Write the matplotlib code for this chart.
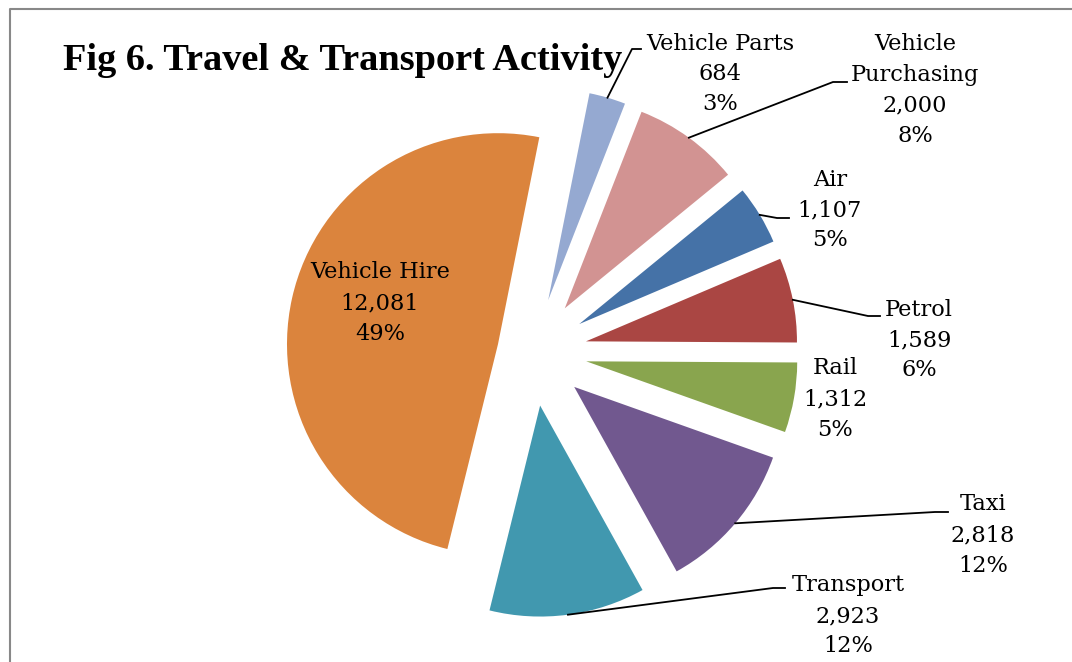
import matplotlib
matplotlib.use('Agg')
import matplotlib.pyplot as plt
import numpy as np

# data, clockwise from the top
labels = ['Vehicle Parts', 'Vehicle\nPurchasing', 'Air', 'Petrol', 'Rail',
          'Taxi', 'Transport', 'Vehicle Hire']
values = [684, 2000, 1107, 1589, 1312, 2818, 2923, 12081]
pcts = [3, 8, 5, 6, 5, 12, 12, 49]
colors = ['#95A9D1', '#D29392', '#4572A7', '#AA4643', '#89A54E',
          '#71588F', '#4198AF', '#DB843D']
explode = [0.256, 0.256, 0.256, 0.256, 0.256, 0.256, 0.256, 0.17]

W, H = 1072, 662
R = 211


def px(x, y):
    # image pixel -> data coords
    return x, H - y


fig = plt.figure(figsize=(W / 100, H / 100), dpi=100)
ax = fig.add_axes([0, 0, 1, 1])

# pie() takes explode in data units, so scale by the radius
wedges, _ = ax.pie(values, colors=colors, explode=[e * R for e in explode],
                   startangle=78.7, counterclock=False, radius=R,
                   center=px(533, 352), frame=True,
                   wedgeprops={'linewidth': 0})
ax.set_xlim(0, W)
ax.set_ylim(0, H)
ax.set_aspect('equal')
ax.axis('off')

font = 'DejaVu Serif'
fs = 16.2

# label centres and leader elbows (image pixels)
label_pos = [(720, 74), (915, 90), (830, 210), (919, 340), (835, 399),
             (983, 535), (848, 616), (380, 303)]
leaders = [((632, 49), (641, 49)), ((833, 82), (847, 82)),
           ((777, 218), (789, 218)), ((868, 316), (880, 316)), None,
           ((935, 512), (948, 512)), ((773, 588), (785, 588)), None]

for w, lab, v, p, pos, ld in zip(wedges, labels, values, pcts, label_pos, leaders):
    txt = '{}\n{:,}\n{}%'.format(lab, v, p)
    ax.text(*px(*pos), txt, ha='center', va='center', fontsize=fs,
            family=font, linespacing=1.5)
    if ld is not None:
        th = np.radians((w.theta1 + w.theta2) / 2)
        sx = w.center[0] + w.r * np.cos(th)
        sy = w.center[1] + w.r * np.sin(th)
        e1 = px(*ld[0])
        e2 = px(*ld[1])
        ax.plot([sx, e1[0], e2[0]], [sy, e1[1], e2[1]], color='black', lw=1.3)

ax.text(*px(63, 60), 'Fig 6. Travel & Transport Activity', ha='left', va='center',
        fontsize=27.6, family='Liberation Serif', fontweight='bold')

# chart area frame
ax.plot([10, 10, W + 5], [-5, H - 9, H - 9], color='#888888', lw=1.5,
        clip_on=False)

fig.savefig('out.png', dpi=100)
